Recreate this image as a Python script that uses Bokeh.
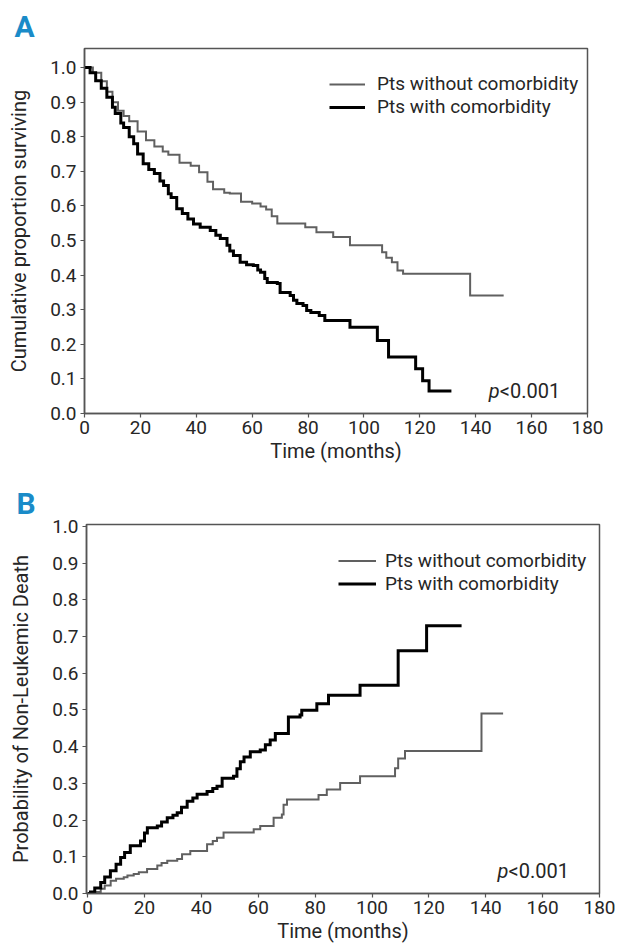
from bokeh.plotting import figure
from bokeh.models import Range1d, FixedTicker, Legend, LegendItem, Label, PrintfTickFormatter, Title
from bokeh.embed import file_html
from bokeh.resources import INLINE

FONT = "Roboto"
GRAY = "#606060"
BLACK = "#000000"
AXC = "#555555"
TXT = "#262626"
BLUE = "#1a8bc8"

# ---------------- data ----------------
x_ticks = [0, 20, 40, 60, 80, 100, 120, 140, 160, 180]
y_ticks = [0.0, 0.1, 0.2, 0.3, 0.4, 0.5, 0.6, 0.7, 0.8, 0.9, 1.0]

series_names = ["Pts without comorbidity", "Pts with comorbidity"]

# Panel A: cumulative proportion surviving
a_without_t = [0, 3, 6, 8, 10, 12, 14, 16, 19, 22, 25, 28, 30, 34, 38, 41, 44, 46, 50, 52,
               56, 60, 63, 65, 67, 69, 79, 83, 89, 95, 106.5, 108, 110, 112, 114, 138, 150]
a_without_s = [1.0, 0.985, 0.96, 0.93, 0.9, 0.875, 0.86, 0.845, 0.815, 0.79, 0.772, 0.757,
               0.748, 0.725, 0.716, 0.697, 0.67, 0.648, 0.638, 0.636, 0.612, 0.607, 0.598,
               0.59, 0.57, 0.549, 0.538, 0.524, 0.51, 0.486, 0.466, 0.45, 0.437, 0.413, 0.404,
               0.341, 0.341]

a_with_t = [0, 2, 4, 6, 8, 10, 11, 13, 14, 16, 17.6, 19, 21, 23, 25, 27, 28.3, 30, 31, 33,
            35, 37, 39, 41.4, 45, 47, 48.6, 51, 52, 53.3, 55.7, 58, 60.4, 62, 63, 64.5,
            65.4, 69, 70, 73.6, 74.8, 76, 78.2, 79.5, 81, 84, 86, 95, 104.8, 108.8,
            118.5, 121, 123.3, 131.3]
a_with_s = [1.0, 0.985, 0.962, 0.94, 0.914, 0.885, 0.867, 0.84, 0.827, 0.8, 0.78, 0.75,
            0.722, 0.705, 0.694, 0.672, 0.659, 0.635, 0.624, 0.592, 0.578, 0.562, 0.548,
            0.538, 0.529, 0.515, 0.506, 0.486, 0.47, 0.457, 0.437, 0.43, 0.428, 0.415,
            0.408, 0.39, 0.379, 0.376, 0.35, 0.341, 0.327, 0.318, 0.312, 0.298, 0.292,
            0.283, 0.269, 0.249, 0.211, 0.163, 0.129, 0.095, 0.065, 0.065]

# Panel B: probability of non-leukemic death
b_without_t = [0, 1, 4.6, 6, 8.1, 10, 12.7, 14, 16.2, 18, 20.9, 24.5, 26, 28, 31.5, 33.2,
               36.1, 42, 44, 45.5, 47.8, 58.4, 60.7, 65.4, 68.3, 68.9, 70.1, 81.2, 84.1,
               88.8, 95.8, 108.1, 109.2, 111.6, 138.5, 146.1]
b_without_p = [0.0, 0.004, 0.013, 0.022, 0.035, 0.04, 0.044, 0.049, 0.053, 0.058, 0.067,
               0.076, 0.083, 0.089, 0.094, 0.107, 0.116, 0.134, 0.143, 0.152, 0.166, 0.175,
               0.184, 0.206, 0.215, 0.242, 0.256, 0.268, 0.283, 0.301, 0.319, 0.341, 0.368,
               0.388, 0.49, 0.49]

b_with_t = [0, 1, 2.5, 4.6, 6, 8, 10, 11.6, 13, 15, 18.6, 20, 21, 24.5, 26, 28, 30, 31.5,
            33, 35, 37, 38.5, 42, 44, 45.5, 47.3, 51.3, 52.5, 53.7, 55, 57.2, 60.7, 62.5,
            64.2, 66, 70.6, 74.7, 75.3, 80.6, 84.7, 95.8, 109.2, 119.2, 131.5]
b_with_p = [0.0, 0.004, 0.015, 0.03, 0.045, 0.062, 0.08, 0.098, 0.112, 0.13, 0.143, 0.165,
            0.179, 0.184, 0.195, 0.206, 0.213, 0.22, 0.235, 0.251, 0.26, 0.27, 0.278, 0.286,
            0.292, 0.314, 0.319, 0.34, 0.359, 0.372, 0.386, 0.391, 0.405, 0.418, 0.436,
            0.481, 0.486, 0.499, 0.517, 0.54, 0.567, 0.661, 0.729, 0.729]

p_text = "p"
p_value_text = "<0.001"


def make_fig(height, top, bottom, left, right, xr, yr, ylabel, panel, title_standoff):
    p = figure(width=620, height=height, x_range=Range1d(*xr), y_range=Range1d(*yr),
               output_backend="svg", toolbar_location=None,
               min_border_top=top, min_border_bottom=bottom,
               min_border_left=left, min_border_right=right)
    p.title = Title(text=panel, align="left", offset=-70, standoff=title_standoff,
                    text_font=FONT, text_font_size="30px", text_font_style="bold",
                    text_color=BLUE)
    p.grid.visible = False
    p.outline_line_color = AXC
    p.outline_line_width = 1.5
    p.background_fill_color = "white"
    p.border_fill_color = "white"
    for ax in (p.xaxis[0], p.yaxis[0]):
        ax.axis_line_color = AXC
        ax.axis_line_width = 1.5
        ax.major_tick_line_color = AXC
        ax.major_tick_line_width = 1.2
        ax.major_tick_out = 4
        ax.major_tick_in = 0
        ax.minor_tick_line_color = None
        ax.major_label_text_font = FONT
        ax.major_label_text_font_size = "19px"
        ax.major_label_text_color = TXT
        ax.axis_label_text_font = FONT
        ax.axis_label_text_font_size = "20px"
        ax.axis_label_text_font_style = "normal"
        ax.axis_label_text_color = TXT
    p.xaxis.ticker = FixedTicker(ticks=x_ticks)
    p.yaxis.ticker = FixedTicker(ticks=y_ticks)
    p.yaxis.formatter = PrintfTickFormatter(format="%.1f")
    p.xaxis.axis_label = "Time (months)"
    p.yaxis.axis_label = ylabel
    p.xaxis.major_label_standoff = 3
    p.yaxis.major_label_standoff = 4
    p.xaxis.axis_label_standoff = 2
    p.yaxis.axis_label_standoff = 16
    return p


def add_legend(p, r1, r2, loc, item_h, standoff, glyph_w):
    leg = Legend(items=[LegendItem(label=series_names[0], renderers=[r1]),
                        LegendItem(label=series_names[1], renderers=[r2])],
                 location=loc, padding=0, margin=0, spacing=0,
                 label_height=item_h, glyph_height=item_h, glyph_width=glyph_w,
                 label_standoff=standoff,
                 label_text_font=FONT, label_text_font_size="19px",
                 label_text_color=TXT,
                 border_line_color=None, background_fill_alpha=0)
    p.add_layout(leg, "center")


def txt(x, y, text, size, **kw):
    return Label(x=x, y=y, text=text, text_font=FONT, text_font_size=size,
                 text_baseline="alphabetic", text_color=TXT, **kw)


# ---------------- Panel A ----------------
pa = make_fig(480, 48, 67, 84, 33, (0, 180), (0, 1.055), "Cumulative proportion surviving", "A", 10)
ra1 = pa.step(a_without_t, a_without_s, mode="after", line_color=GRAY, line_width=2,
              line_join="miter")
ra2 = pa.step(a_with_t, a_with_s, mode="after", line_color=BLACK, line_width=3,
              line_join="miter")
add_legend(pa, ra1, ra2, (245, 295), 22, 12, 36)
pa.add_layout(txt(148.6, 0.066, p_text, "20px", text_font_style="italic", text_align="right"))
pa.add_layout(txt(148.6, 0.066, p_value_text, "20px", text_align="left"))

# ---------------- Panel B ----------------
pb = make_fig(469, 41, 56, 86, 21, (-0.4, 180), (0, 1.005), "Probability of Non-Leukemic Death", "B", 7)
rb1 = pb.step(b_without_t, b_without_p, mode="after", line_color=GRAY, line_width=2,
              line_join="miter")
rb2 = pb.step(b_with_t, b_with_p, mode="after", line_color=BLACK, line_width=3,
              line_join="miter")
add_legend(pb, rb1, rb2, (252, 298), 21, 9, 38)
pb.add_layout(txt(148, 0.062, p_text, "20px", text_font_style="italic", text_align="right"))
pb.add_layout(txt(148, 0.062, p_value_text, "20px", text_align="left"))

open("out.html", "w").write(file_html([pa, pb], INLINE))
